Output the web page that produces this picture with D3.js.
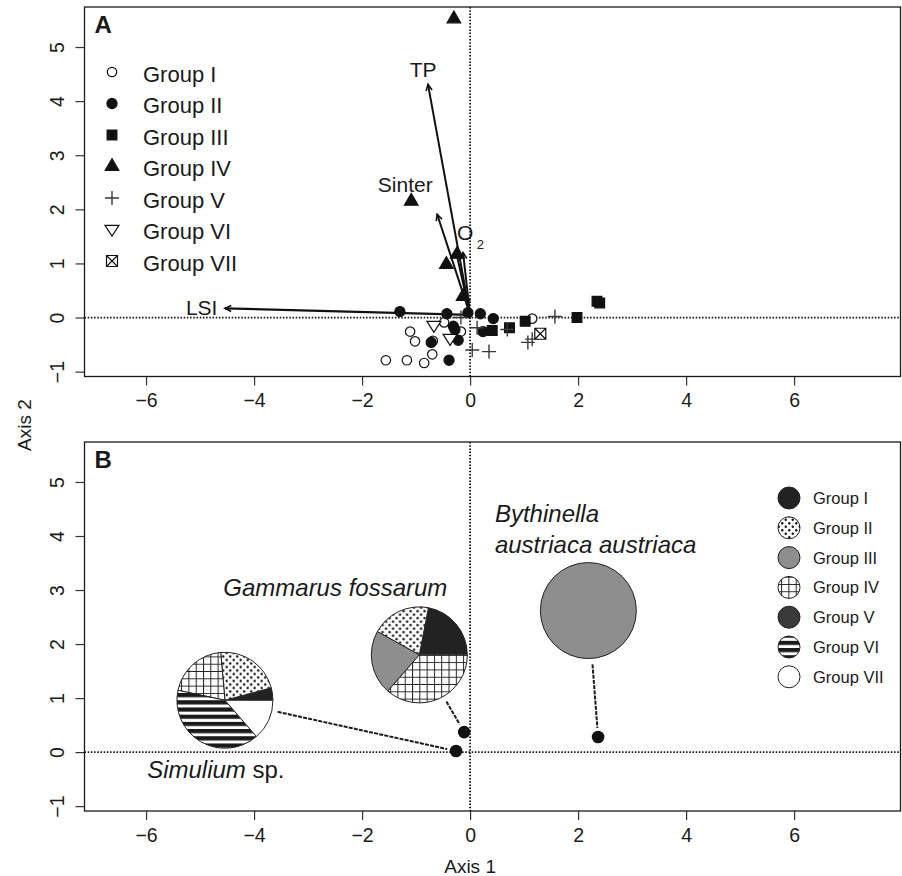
<!DOCTYPE html>
<meta charset="utf-8">
<script src="https://cdn.jsdelivr.net/npm/d3@7"></script>
<style>
  body { margin: 0; background: #fff; }
  svg text { font-family: "Liberation Sans", Arial, Helvetica, sans-serif; fill: #1a1a1a; }
</style>
<div id="chart"></div>
<script>
// ---- data ----
const groups = ["Group I", "Group II", "Group III", "Group IV", "Group V", "Group VI", "Group VII"]
const xTicks = [-6, -4, -2, 0, 2, 4, 6]
const yTicks = [-1, 0, 1, 2, 3, 4, 5]

// panel A: site scores by group, [axis1, axis2]
const siteScores = [
  [[-0.48, -0.09], [-0.17, -0.26], [-1.11, -0.26], [-1.02, -0.44], [-0.69, -0.43],
   [-0.70, -0.68], [-1.56, -0.79], [-1.17, -0.79], [-0.85, -0.84], [1.15, -0.02]],
  [[-1.30, 0.11], [-0.43, 0.07], [-0.04, 0.09], [0.19, 0.07], [0.43, -0.02], [-0.31, -0.16],
   [-0.28, -0.22], [-0.72, -0.46], [-0.22, -0.42], [-0.39, -0.79], [0.24, -0.26]],
  [[0.41, -0.24], [0.73, -0.19], [1.02, -0.07], [1.98, 0.0], [2.35, 0.30], [2.40, 0.27]],
  [[-0.30, 5.52], [-1.09, 2.15], [-0.44, 0.98], [-0.24, 1.17], [-0.13, 0.39]],
  [[-0.17, 0.0], [0.13, -0.19], [0.04, -0.60], [0.35, -0.63], [0.69, -0.22],
   [1.57, 0.02], [1.07, -0.46], [1.15, -0.40]],
  [[-0.67, -0.15], [-0.37, -0.39]],
  [[1.30, -0.30]]
]

// environmental vectors
const vecNames = ["LSI", "TP", "Sinter", "O2a", "O2b"]
const vecTips = [[-4.54, 0.17], [-0.78, 4.31], [-0.61, 1.91], [-0.26, 1.22], [-0.13, 1.20]]
const vecOrigin = [0, 0.05]

// panel B: species scores and group composition (share of each group)
const species = ["Simulium", "Gammarus fossarum", "Bythinella austriaca austriaca"]
const speciesScores = [[-0.26, 0.02], [-0.11, 0.37], [2.37, 0.28]]
const pieCentres = [[-4.54, 0.96], [-0.94, 1.80], [2.19, 2.62]]
const pieShares = [
  [15, 80, 0, 73, 0, 143, 49],
  [79, 72, 78, 131, 0, 0, 0],
  [0, 0, 360, 0, 0, 0, 0]
]

// ---- layout ----
const W = 902, H = 876
const left = 84.5, right = 900.5
const panels = [{top: 7, bottom: 376.5, tag: "A"}, {top: 442, bottom: 811, tag: "B"}]

const svg = d3.select("#chart").append("svg").attr("width", W).attr("height", H)

const defs = svg.append("defs")
const pDots = defs.append("pattern").attr("id", "dots").attr("patternUnits", "userSpaceOnUse")
  .attr("width", 7).attr("height", 7)
pDots.append("rect").attr("width", 7).attr("height", 7).attr("fill", "#fff")
pDots.append("circle").attr("cx", 1.75).attr("cy", 1.75).attr("r", 1.2).attr("fill", "#111")
pDots.append("circle").attr("cx", 5.25).attr("cy", 5.25).attr("r", 1.2).attr("fill", "#111")
const pGrid = defs.append("pattern").attr("id", "grid").attr("patternUnits", "userSpaceOnUse")
  .attr("width", 7.3).attr("height", 7.3)
pGrid.append("rect").attr("width", 7.3).attr("height", 7.3).attr("fill", "#fff")
pGrid.append("path").attr("d", "M0.5,0V7.3M0,0.5H7.3").attr("stroke", "#222").attr("stroke-width", 1)
const pStripes = defs.append("pattern").attr("id", "stripes").attr("patternUnits", "userSpaceOnUse")
  .attr("width", 7.2).attr("height", 7.2)
pStripes.append("rect").attr("width", 7.2).attr("height", 7.2).attr("fill", "#fff")
pStripes.append("rect").attr("y", 0).attr("width", 7.2).attr("height", 4.2).attr("fill", "#1a1a1a")

const groupFill = ["#222", "url(#dots)", "#8e8e8e", "url(#grid)", "#3a3a3a", "url(#stripes)", "#fff"]

const x = d3.scaleLinear().domain([-7.14, 7.97]).range([left, right])

const ys = panels.map(p => d3.scaleLinear().domain([-1.09, 5.74]).range([p.bottom, p.top]))

panels.forEach((p, i) => {
  const y = ys[i]
  const g = svg.append("g")
  // reference lines
  g.append("line").attr("x1", left).attr("x2", right).attr("y1", y(0)).attr("y2", y(0))
    .attr("stroke", "#111").attr("stroke-width", 1.8).attr("stroke-dasharray", "1.5,1.7")
  g.append("line").attr("x1", x(0)).attr("x2", x(0)).attr("y1", p.top).attr("y2", p.bottom)
    .attr("stroke", "#111").attr("stroke-width", 1.8).attr("stroke-dasharray", "1.5,1.7")
  // axes
  const ax = g.append("g").attr("transform", `translate(0,${p.bottom})`)
    .call(d3.axisBottom(x).tickValues(xTicks).tickSize(9).tickPadding(8)
      .tickFormat(d => d < 0 ? "\u2212" + Math.abs(d) : d))
  const ay = g.append("g").attr("transform", `translate(${left},0)`)
    .call(d3.axisLeft(y).tickValues(yTicks).tickSize(9).tickPadding(0)
      .tickFormat(d => d < 0 ? "\u2212" + Math.abs(d) : d))
  ;[ax, ay].forEach(a => {
    a.select(".domain").remove()
    a.selectAll(".tick line").attr("stroke", "#333").attr("stroke-width", 1.2)
    a.selectAll(".tick text").attr("font-size", 19.5).attr("fill", "#1a1a1a")
  })
  ay.selectAll(".tick text")
    .attr("x", null).attr("dy", null)
    .attr("text-anchor", "middle")
    .attr("transform", "translate(-28,0) rotate(-90)")
    .attr("dominant-baseline", "central")
  g.append("rect").attr("x", left).attr("y", p.top)
    .attr("width", right - left).attr("height", p.bottom - p.top)
    .attr("fill", "none").attr("stroke", "#1a1a1a").attr("stroke-width", 1.3)
  g.append("text").attr("x", left + 10).attr("y", p.top + 26)
    .attr("font-size", 24).attr("font-weight", "bold").text(p.tag)
})

// ---- panel A ----
const yA = ys[0]
const symA = [
  {shape: d3.symbolCircle, size: 70, fill: "#fff", stroke: "#111"},
  {shape: d3.symbolCircle, size: 80, fill: "#111", stroke: "#111"},
  {shape: d3.symbolSquare, size: 95, fill: "#111", stroke: "#111"},
  {shape: d3.symbolTriangle, size: 80, fill: "#111", stroke: "#111"},
  {shape: "plus", size: 7, fill: "none", stroke: "#3a3a3a"},
  {shape: "down", size: 7, fill: "#fff", stroke: "#111"},
  {shape: "boxx", size: 5.5, fill: "#fff", stroke: "#111"}
]
function drawSym(sel, k) {
  const s = symA[k]
  if (s.shape === "plus") {
    const h = s.size
    sel.append("path").attr("d", `M${-h},0H${h}M0,${-h}V${h}`)
      .attr("stroke", s.stroke).attr("stroke-width", 1.4).attr("fill", "none")
  } else if (s.shape === "down") {
    const h = s.size
    sel.append("path").attr("d", `M${-h},${-h * 0.6}L${h},${-h * 0.6}L0,${h * 0.95}Z`)
      .attr("stroke", s.stroke).attr("stroke-width", 1.2).attr("fill", s.fill)
  } else if (s.shape === "boxx") {
    const h = s.size
    sel.append("path").attr("d", `M${-h},${-h}H${h}V${h}H${-h}ZM${-h},${-h}L${h},${h}M${h},${-h}L${-h},${h}`)
      .attr("stroke", s.stroke).attr("stroke-width", 1.2).attr("fill", s.fill)
  } else {
    sel.append("path").attr("d", d3.symbol(s.shape, s.size)())
      .attr("stroke", s.stroke).attr("stroke-width", 1.2).attr("fill", s.fill)
  }
}

const arrowsG = svg.append("g")
function arrow(x0, y0, x1, y1, w) {
  arrowsG.append("line").attr("x1", x0).attr("y1", y0).attr("x2", x1).attr("y2", y1)
    .attr("stroke", "#111").attr("stroke-width", w)
  const a = Math.atan2(y1 - y0, x1 - x0), L = 7, sp = 0.45
  arrowsG.append("path")
    .attr("d", `M${x1 - L * Math.cos(a - sp)},${y1 - L * Math.sin(a - sp)}L${x1},${y1}L${x1 - L * Math.cos(a + sp)},${y1 - L * Math.sin(a + sp)}`)
    .attr("fill", "none").attr("stroke", "#111").attr("stroke-width", 1.6)
}

const ptsG = svg.append("g")
siteScores.forEach((pts, k) => {
  pts.forEach(d => {
    const g = ptsG.append("g").attr("transform", `translate(${x(d[0])},${yA(d[1])})`)
    drawSym(g, k)
  })
})

vecTips.forEach((t, i) => {
  arrow(x(vecOrigin[0]), yA(vecOrigin[1]), x(t[0]), yA(t[1]), i === 0 ? 2.4 : 2)
})

const labA = svg.append("g").attr("font-size", 21).attr("text-anchor", "middle")
labA.append("text").attr("x", x(-4.97)).attr("y", yA(0.19)).attr("dy", "0.35em").text("LSI")
labA.append("text").attr("x", x(-0.87)).attr("y", yA(4.59)).attr("dy", "0.35em").text("TP")
labA.append("text").attr("x", x(-1.2)).attr("y", yA(2.46)).attr("dy", "0.35em").text("Sinter")
labA.append("text").attr("x", x(-0.09)).attr("y", yA(1.57)).attr("dy", "0.35em").text("O")
labA.append("text").attr("x", x(0.19)).attr("y", yA(1.35)).attr("dy", "0.35em")
  .attr("font-size", 13).text("2")

const legA = svg.append("g")
groups.forEach((gName, k) => {
  const yy = 74 + k * 31.5
  drawSym(legA.append("g").attr("transform", `translate(112,${yy - 2})`), k)
  legA.append("text").attr("x", 143).attr("y", yy).attr("dy", "0.36em")
    .attr("font-size", 22).text(gName)
})

// ---- panel B ----
const yB = ys[1]
const pieR = 48
const arc = d3.arc().innerRadius(0).outerRadius(pieR)
const pie = d3.pie().sort(null).value(d => d.v)
  .startAngle(Math.PI / 2).endAngle(Math.PI / 2 - 2 * Math.PI)

pieCentres.forEach((c, i) => {
  const cx = x(c[0]), cy = yB(c[1])
  const px = x(speciesScores[i][0]), py = yB(speciesScores[i][1])
  const dx = px - cx, dy = py - cy, len = Math.hypot(dx, dy)
  svg.append("line")
    .attr("x1", cx + dx / len * (pieR + 6)).attr("y1", cy + dy / len * (pieR + 6))
    .attr("x2", px - dx / len * 9).attr("y2", py - dy / len * 9)
    .attr("stroke", "#1a1a1a").attr("stroke-width", 2).attr("stroke-dasharray", "4,1.2")
  const g = svg.append("g").attr("transform", `translate(${cx},${cy})`)
  const slices = pie(pieShares[i].map((v, k) => ({v, k}))).filter(s => s.data.v > 0)
  if (slices.length === 1) {
    g.append("circle").attr("r", pieR).attr("fill", groupFill[slices[0].data.k])
      .attr("stroke", "#222").attr("stroke-width", 1)
  } else {
    g.selectAll("path").data(slices).join("path")
      .attr("d", arc).attr("fill", s => groupFill[s.data.k])
      .attr("stroke", "#222").attr("stroke-width", 1)
  }
})

svg.append("g").selectAll("circle").data(speciesScores).join("circle")
  .attr("cx", d => x(d[0])).attr("cy", d => yB(d[1])).attr("r", 6.3).attr("fill", "#111")

const labB = svg.append("g").attr("font-size", 24).attr("font-style", "italic")
labB.append("text").attr("x", x(-4.57)).attr("y", yB(3.04)).attr("dy", "0.35em").text("Gammarus fossarum")
labB.append("text").attr("x", x(0.46)).attr("y", yB(4.42)).attr("dy", "0.35em").text("Bythinella")
labB.append("text").attr("x", x(0.46)).attr("y", yB(3.85)).attr("dy", "0.35em").text("austriaca austriaca")
const sim = labB.append("text").attr("x", x(-5.98)).attr("y", yB(-0.33)).attr("dy", "0.35em")
sim.append("tspan").text("Simulium")
sim.append("tspan").attr("font-style", "normal").text(" sp.")

const legB = svg.append("g")
groups.forEach((gName, k) => {
  const yy = 498 + k * 29.8
  legB.append("circle").attr("cx", 789).attr("cy", yy).attr("r", 11)
    .attr("fill", groupFill[k]).attr("stroke", "#222").attr("stroke-width", 1)
  legB.append("text").attr("x", 813).attr("y", yy).attr("dy", "0.36em")
    .attr("font-size", 16.5).text(gName)
})

// axis titles
svg.append("text").attr("x", x(0)).attr("y", 866).attr("dy", "0.35em")
  .attr("text-anchor", "middle").attr("font-size", 19).text("Axis 1")
svg.append("text").attr("transform", "translate(24,425) rotate(-90)")
  .attr("text-anchor", "middle").attr("dominant-baseline", "central")
  .attr("font-size", 19).text("Axis 2")
</script>
